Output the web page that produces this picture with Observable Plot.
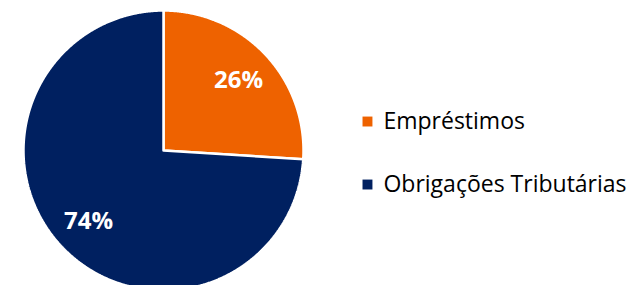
<!DOCTYPE html>
<html>
<head>
<meta charset="utf-8">
<script src="https://cdn.jsdelivr.net/npm/d3@7"></script>
<script src="https://cdn.jsdelivr.net/npm/@observablehq/plot@0.6"></script>
<style>
  html, body { margin: 0; padding: 0; background: #fff; overflow: hidden; }
  #chart svg { display: block; }
</style>
</head>
<body>
<div id="chart"></div>
<script>
const categories = ["Empréstimos", "Obrigações Tributárias"];
const values = [26, 74];
const labels = ["26%", "74%"];
const colors = ["#EE6200", "#002060"];

const pie = d3.pie().sort(null).value(d => d.value)(
  categories.map((name, i) => ({name, value: values[i], label: labels[i]}))
);

// slice outlines (geometry of the arcs in unit-circle coordinates)
const slicePts = [];
for (const s of pie) {
  const name = s.data.name;
  slicePts.push({name, x: 0, y: 0});
  const n = Math.max(2, Math.ceil((s.endAngle - s.startAngle) / 0.005));
  for (let k = 0; k <= n; k++) {
    const a = s.startAngle + (s.endAngle - s.startAngle) * k / n;
    slicePts.push({name, x: Math.sin(a), y: Math.cos(a)});
  }
  slicePts.push({name, x: 0, y: 0});
}

const labelR = 0.735;
const sliceLabels = pie.map(s => {
  const a = (s.startAngle + s.endAngle) / 2;
  return {label: s.data.label, x: labelR * Math.sin(a), y: labelR * Math.cos(a)};
});

const legendY = [0.207, -0.243];
const legend = categories.map((name, i) => ({name, y: legendY[i]}));

const chart = Plot.plot({
  width: 641,
  height: 285,
  margin: 0,
  x: {domain: [-1, 1], range: [23, 303], axis: null},
  y: {domain: [-1, 1], range: [290, 10], axis: null},
  color: {domain: categories, range: colors},
  style: {background: "#fff", fontFamily: "'Open Sans', sans-serif"},
  marks: [
    Plot.line(slicePts, {x: "x", y: "y", z: "name", fill: "name", stroke: "#fff", strokeWidth: 2.5, strokeLinejoin: "miter"}),
    Plot.text(sliceLabels, {x: "x", y: "y", text: "label", fill: "#fff", fontSize: 24, fontWeight: "bold"}),
    Plot.dot(legend, {x: () => 1.457, y: "y", symbol: "square", r: 5.6, fill: "name", stroke: null}),
    Plot.text(legend, {x: () => 1.571, y: "y", text: "name", textAnchor: "start", fill: "#000", fontSize: 23})
  ]
});
document.getElementById("chart").appendChild(chart);
</script>
</body>
</html>
